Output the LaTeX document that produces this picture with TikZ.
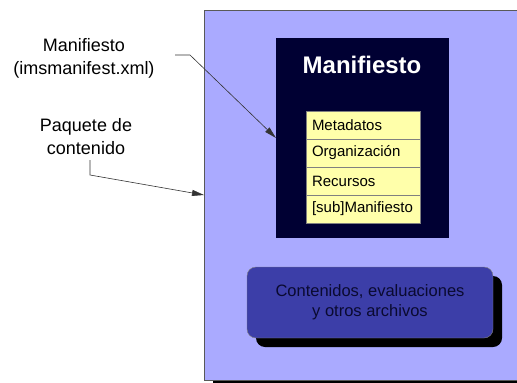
\documentclass[tikz,border=0pt]{standalone}
\usepackage{fontspec}
\setmainfont{Liberation Sans}
\usetikzlibrary{arrows.meta}
\definecolor{lav}{HTML}{AAAAFF}
\definecolor{navybox}{HTML}{000033}
\definecolor{pale}{HTML}{FFFFAA}
\definecolor{blbox}{HTML}{3C3EA8}
\definecolor{dtext}{HTML}{0A0A30}
\begin{document}
\begin{tikzpicture}[x=1pt,y=-1pt,
  lbl/.style={font=\fontsize{18}{23}\selectfont, align=center, inner sep=0pt},
  row/.style={draw=gray, fill=pale, minimum height=28pt, inner xsep=6pt, inner ysep=0pt,
    text width=102pt, align=left, font=\fontsize{15}{18}\selectfont, anchor=north west, outer sep=0pt},
  conn/.style={draw=black!80, line width=0.6pt, -{Triangle[length=12pt,width=6pt]}}]
\useasboundingbox (0,0) rectangle (517,383);
% outer package box with shadow
\fill[black] (213,14) rectangle (522,384);
\node[draw=gray!70!black, line width=0.8pt, fill=lav, minimum width=315pt, minimum height=370pt,
  inner sep=0pt, outer sep=0pt] (outer) at (361.5,195) {};
% manifest box
\node[fill=navybox, minimum width=173pt, minimum height=200pt, inner sep=0pt, outer sep=0pt]
  (navy) at (362.5,138) {};
\node[font=\bfseries\fontsize{24}{28}\selectfont, text=white] (title) at (362,65) {Manifiesto};
% rows
\node[row] (r1) at (306,111) {Metadatos};
\node[row] (r2) at (306,139) {Organización};
\node[row] (r3) at (306,167) {Recursos};
\node[row] (r4) at (306,195) {[sub]Manifiesto};
% contents box with shadow
\fill[black, rounded corners=9pt] (256,276) rectangle (502,347);
\node[fill=blbox, draw=black!50, rounded corners=9pt, minimum width=246pt, minimum height=71pt,
  inner sep=0pt, align=center, text=dtext, font=\fontsize{16.5}{20}\selectfont]
  (cont) at (370,302.5) {Contenidos, evaluaciones\\y otros archivos};
% left labels
\node[lbl] (lab1) at (84,58) {Manifiesto\\(imsmanifest.xml)};
\node[lbl] (lab2) at (86,137) {Paquete de\\contenido};
% connectors
\coordinate (s1) at (175,55);
\coordinate (b1) at (190,55);
\draw[conn] (s1) -- (b1) -- (navy.west);
\coordinate (s2) at (90,160);
\coordinate (b2) at (90,175);
\draw[conn] (s2) -- (b2) -- (outer.west);
\end{tikzpicture}
\end{document}
